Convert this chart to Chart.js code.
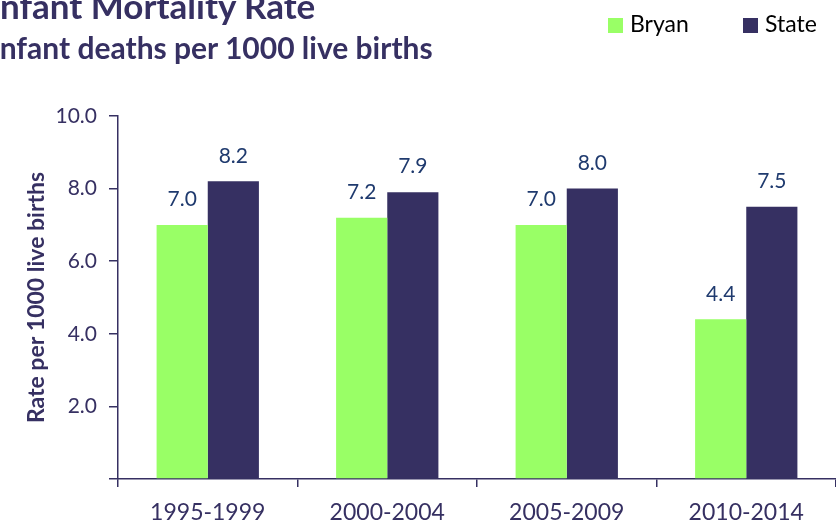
<!DOCTYPE html>
<html>
<head>
<meta charset="utf-8">
<script src="https://cdn.jsdelivr.net/npm/chart.js@4/dist/chart.umd.min.js"></script>
<style>
  html, body { margin: 0; padding: 0; width: 836px; height: 527px; overflow: hidden; background: #fff; }
  #wrap { position: relative; width: 836px; height: 527px; }
  canvas { position: absolute; left: 0; top: 0; }
  .t { position: absolute; font-family: Lato, "Open Sans", sans-serif; font-weight: bold; color: #363062; white-space: nowrap; line-height: 1; }
  #title { left: -10px; top: -12px; font-size: 35px; }
  #subtitle { left: -9px; top: 32px; font-size: 30px; }
  .leg { position: absolute; top: 9px; font-family: Lato, "Open Sans", sans-serif; font-size: 23px; color: #000; white-space: nowrap; }
  .leg span.sw { display: inline-block; width: 15px; height: 15px; margin-right: 7px; vertical-align: -1px; }
</style>
</head>
<body>
<div id="wrap">
  <canvas id="c" width="836" height="527"></canvas>
  <div class="t" id="title">Infant Mortality Rate</div>
  <div class="t" id="subtitle">Infant deaths per 1000 live births</div>
  <div class="leg" style="left:608px"><span class="sw" style="background:#99FF66"></span>Bryan</div>
  <div class="leg" style="left:743px"><span class="sw" style="background:#363062"></span>State</div>
</div>
<script>
const categories = ["1995-1999", "2000-2004", "2005-2009", "2010-2014"];
const bryanValues = [7.0, 7.2, 7.0, 4.4];
const stateValues = [8.2, 7.9, 8.0, 7.5];
const yTicks = [0, 2, 4, 6, 8, 10];
const seriesNames = ["Bryan", "State"];

const navy = "#363062";
const labelBlue = "#1F3A6E";

const valueLabels = {
  id: "valueLabels",
  afterDatasetsDraw(chart) {
    const ctx = chart.ctx;
    ctx.save();
    ctx.font = "21px Lato, 'Open Sans', sans-serif";
    ctx.fillStyle = labelBlue;
    ctx.textAlign = "center";
    ctx.textBaseline = "bottom";
    chart.data.datasets.forEach((ds, i) => {
      const meta = chart.getDatasetMeta(i);
      meta.data.forEach((bar, j) => {
        ctx.fillText(ds.data[j].toFixed(1), bar.x, bar.y - 15);
      });
    });
    ctx.restore();
  }
};

new Chart(document.getElementById("c"), {
  type: "bar",
  data: {
    labels: categories,
    datasets: [
      { label: seriesNames[0], data: bryanValues, backgroundColor: "#99FF66", barPercentage: 1.0, categoryPercentage: 0.57 },
      { label: seriesNames[1], data: stateValues, backgroundColor: navy, barPercentage: 1.0, categoryPercentage: 0.57 }
    ]
  },
  options: {
    responsive: false,
    animation: false,
    devicePixelRatio: 1,
    layout: { padding: { top: 116, right: 0, left: 0, bottom: 0 } },
    plugins: { legend: { display: false }, title: { display: false }, tooltip: { enabled: false } },
    scales: {
      x: {
        grid: { display: true, offset: true, drawOnChartArea: false, drawTicks: true, tickLength: 8, color: navy, lineWidth: 1.5 },
        border: { display: true, color: navy, width: 1.5 },
        ticks: { color: navy, font: { family: "Lato, 'Open Sans', sans-serif", size: 23 }, padding: 12, maxRotation: 0 },
        afterFit(scale) { scale.height = 48; }
      },
      y: {
        min: 0, max: 10,
        afterBuildTicks(scale) { scale.ticks = yTicks.map(v => ({ value: v })); },
        grid: { display: true, drawOnChartArea: false, drawTicks: true, tickLength: 9, color: navy, lineWidth: 1.5 },
        border: { display: true, color: navy, width: 1.5 },
        ticks: {
          color: navy,
          font: { family: "Lato, 'Open Sans', sans-serif", size: 21 },
          padding: 12,
          callback: (v) => v === 0 ? "" : Number(v).toFixed(1)
        },
        title: {
          display: true,
          text: "Rate per 1000 live births",
          color: navy,
          font: { family: "Lato, 'Open Sans', sans-serif", size: 23, weight: "bold" },
          padding: { top: 23, bottom: 8 }
        },
        afterFit(scale) { scale.width = 118; }
      }
    }
  },
  plugins: [valueLabels]
});
</script>
</body>
</html>
